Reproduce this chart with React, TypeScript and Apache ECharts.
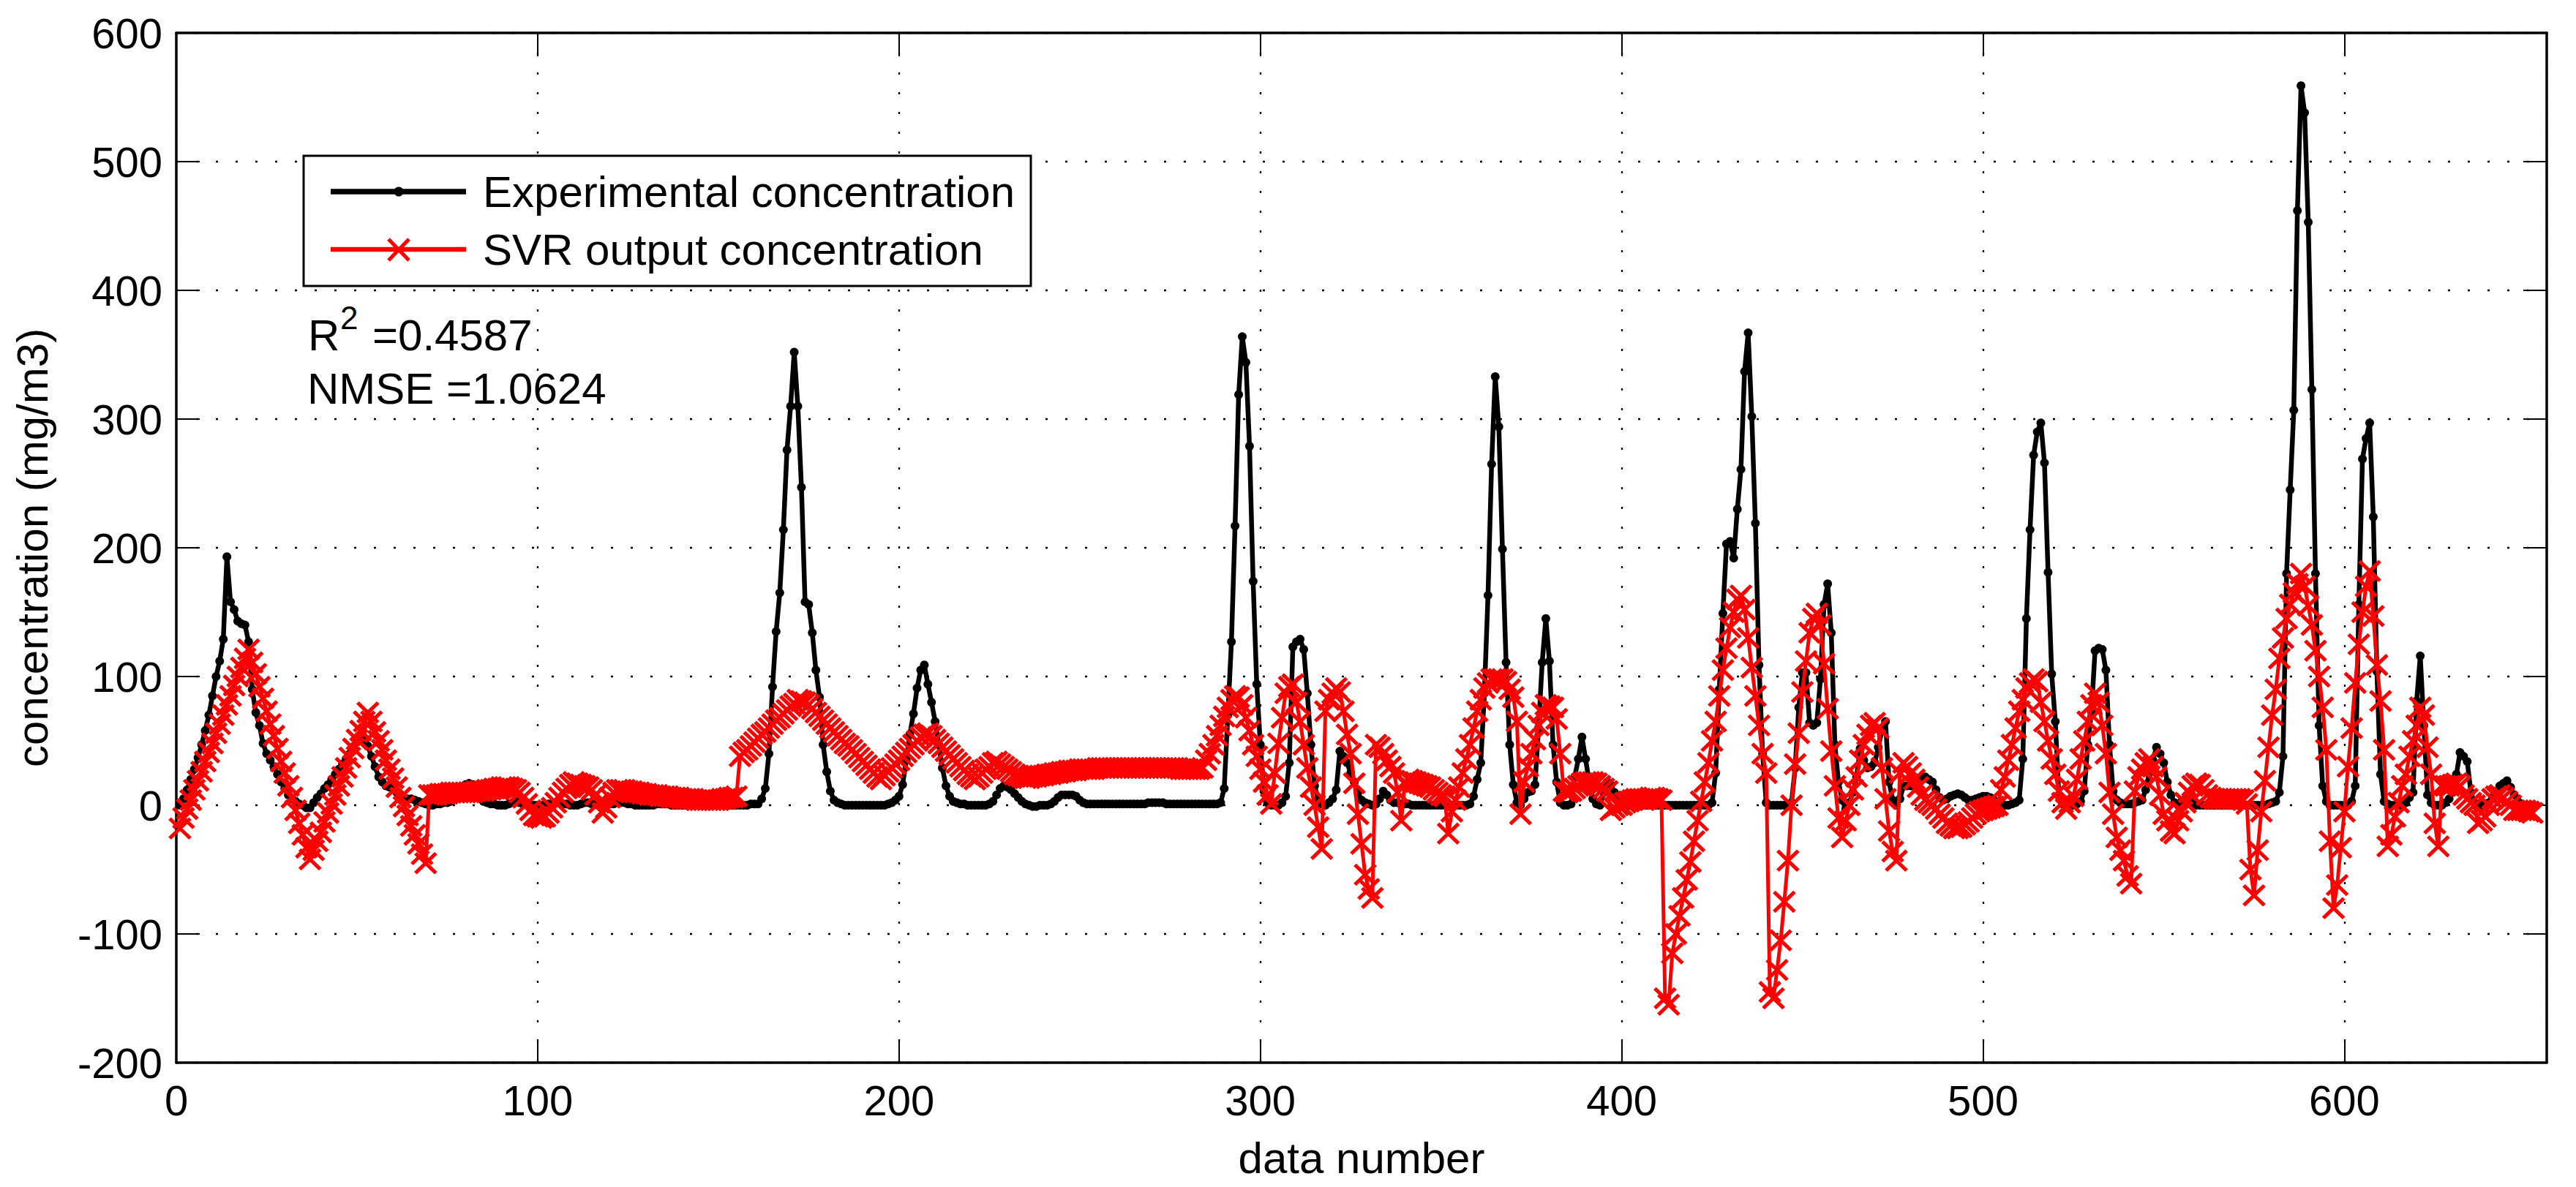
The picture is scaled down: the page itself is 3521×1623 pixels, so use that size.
import React, { useEffect, useRef } from 'react';
import * as echarts from 'echarts';

// ---- data ----
const X_MIN = 0;
const X_MAX = 656;
const X_INTERVAL = 100;
const Y_MIN = -200;
const Y_MAX = 600;
const Y_INTERVAL = 100;

const SERIES_NAMES = ['Experimental concentration', 'SVR output concentration'];
const X_LABEL = 'data number';
const Y_LABEL = 'concentration (mg/m3)';
const R2_VALUE = '=0.4587';
const NMSE_LINE = 'NMSE =1.0624';

// Experimental concentration, data numbers 1..652
const EXP_VALUES = [
  0, 5, 12, 20, 28, 37, 47, 58, 70, 85,
  100, 112, 129, 193, 158, 152, 143, 141, 140, 127,
  90, 72, 62, 48, 40, 35, 30, 24, 18, 13,
  8, 5, 3, 1, 0, -2, -2, 2, 6, 9,
  13, 16, 20, 24, 28, 32, 36, 40, 44, 49,
  53, 50, 46, 38, 30, 22, 18, 15, 14, 13,
  10, 8, 6, 5, 5, 4, 3, 2, 1, 0,
  0, 1, 1, 2, 2, 3, 5, 10, 14, 16,
  17, 16, 12, 6, 3, 2, 1, 1, 0, 0,
  0, 1, 2, 3, 2, 1, 1, 0, 0, 0,
  0, 0, 1, 1, 2, 2, 1, 1, 0, 0,
  0, 1, 2, 2, 1, 1, 0, 0, 0, 1,
  1, 2, 2, 2, 1, 1, 0, 0, 0, 0,
  0, 0, 1, 1, 1, 1, 0, 0, 0, 0,
  0, 0, 0, 1, 1, 1, 1, 0, 0, 0,
  0, 0, 0, 0, 0, 0, 0, 0, 1, 1,
  1, 5, 13, 40, 92, 135, 165, 214, 276, 310,
  352, 310, 247, 158, 156, 134, 105, 84, 47, 26,
  11, 4, 2, 1, 0, 0, 0, 0, 0, 0,
  0, 0, 0, 0, 0, 0, 1, 2, 4, 7,
  16, 35, 55, 71, 91, 105, 109, 94, 80, 65,
  47, 29, 15, 7, 3, 2, 1, 1, 0, 0,
  0, 0, 0, 0, 1, 3, 8, 13, 15, 14,
  12, 9, 6, 3, 1, 0, -1, -1, 0, 0,
  0, 1, 3, 6, 8, 8, 8, 8, 7, 4,
  2, 1, 1, 1, 1, 1, 1, 1, 1, 1,
  1, 1, 1, 1, 1, 1, 1, 1, 2, 2,
  2, 2, 2, 1, 1, 1, 1, 1, 1, 1,
  1, 1, 1, 1, 1, 1, 1, 1, 2, 13,
  70, 127, 217, 319, 364, 344, 279, 174, 94, 47,
  11, 2, 0, 0, 0, 2, 7, 33, 123, 127,
  129, 121, 87, 47, 15, 5, 1, 0, 2, 5,
  12, 42, 38, 33, 25, 18, 10, 4, 2, 1,
  0, 1, 5, 11, 8, 4, 2, 2, 1, 1,
  1, 0, 0, 0, 0, 0, 0, 0, 0, 0,
  0, 0, 0, 0, 0, 0, 0, 1, 7, 20,
  33, 87, 163, 265, 333, 294, 199, 111, 47, 16,
  2, 0, 5, 10, 11, 16, 60, 111, 145, 112,
  47, 18, 2, 0, 0, 1, 22, 36, 53, 36,
  18, 5, 1, 0, 10, 18, 16, 10, 4, 1,
  0, 0, 0, 0, 0, 0, 0, 0, 0, 0,
  0, 0, 0, 0, 0, 0, 0, 0, 0, 0,
  0, 0, 0, 0, 2, 25, 90, 149, 203, 205,
  192, 230, 261, 337, 367, 302, 219, 109, 40, 2,
  0, 0, 0, 0, 0, 0, 2, 29, 76, 103,
  103, 64, 62, 64, 98, 156, 172, 134, 47, 18,
  4, -3, 2, 10, 22, 44, 35, 29, 30, 33,
  45, 58, 65, 18, 4, 0, 5, 15, 15, 15,
  16, 18, 20, 22, 20, 18, 12, 6, 4, 5,
  7, 8, 9, 8, 6, 4, 4, 5, 6, 7,
  7, 6, 4, 2, 1, 0, 0, 1, 2, 4,
  36, 145, 214, 272, 290, 297, 266, 181, 102, 65,
  7, 1, 0, 0, 0, 1, 3, 11, 47, 73,
  120, 122, 121, 105, 47, 11, 4, 2, 1, 1,
  1, 2, 3, 4, 12, 25, 35, 45, 40, 33,
  18, 8, 2, 0, 3, 5, 4, 2, 0, 0,
  0, 0, 0, 0, 0, 0, 0, 0, 0, 0,
  0, 0, 0, 0, 0, 0, 0, 0, 1, 2,
  3, 10, 38, 180, 245, 307, 462, 559, 538, 453,
  323, 180, 62, 15, 3, 0, 0, 0, 0, 0,
  0, 3, 15, 156, 269, 285, 297, 224, 104, 24,
  3, 1, 0, 0, 0, 0, 2, 6, 10, 81,
  116, 62, 8, 2, 0, 0, 0, 2, 5, 10,
  24, 41, 38, 34, 10, 2, 0, 0, 0, 2,
  6, 10, 15, 17, 19, 14, 8, 3, 1, 0,
  0, 0,
];

// SVR output concentration, data numbers 1..652
const SVR_VALUES = [
  -18, -10, -3, 4, 12, 19, 26, 34, 41, 48,
  56, 63, 70, 78, 85, 93, 100, 107, 114, 121,
  111, 102, 92, 83, 73, 63, 54, 44, 34, 25,
  15, 6, -4, -14, -23, -33, -42, -35, -28, -21,
  -13, -6, 1, 8, 15, 22, 29, 37, 44, 51,
  58, 65, 72, 65, 57, 50, 43, 35, 28, 21,
  14, 6, -1, -8, -16, -23, -30, -38, -45, 8,
  8, 8, 9, 9, 9, 10, 10, 10, 10, 10,
  10, 10, 11, 11, 11, 12, 12, 13, 13, 14,
  14, 14, 13, 12, 10, 6, 1, -4, -8, -9,
  -10, -9, -6, -2, 2, 6, 10, 13, 16, 18,
  17, 16, 15, 14, 12, 8, 2, -6, -2, 6,
  10, 12, 12, 12, 11, 11, 10, 10, 9, 9,
  8, 8, 8, 7, 7, 7, 6, 6, 6, 5,
  5, 5, 5, 4, 4, 4, 4, 4, 4, 4,
  5, 5, 6, 6, 7, 38, 41, 43, 46, 49,
  52, 55, 57, 60, 63, 66, 68, 71, 74, 77,
  79, 82, 81, 80, 78, 75, 72, 69, 66, 63,
  60, 57, 54, 51, 48, 46, 43, 40, 37, 34,
  31, 28, 25, 22, 20, 23, 26, 29, 32, 35,
  38, 41, 44, 47, 50, 53, 55, 56, 54, 51,
  48, 45, 42, 39, 36, 33, 30, 27, 24, 22,
  20, 22, 25, 28, 30, 33, 34, 32, 30, 28,
  26, 24, 23, 22, 21, 21, 22, 22, 23, 23,
  24, 24, 25, 25, 26, 26, 27, 27, 27, 28,
  28, 28, 28, 28, 29, 29, 29, 29, 29, 29,
  29, 29, 29, 29, 29, 29, 29, 29, 29, 29,
  29, 29, 29, 29, 29, 29, 29, 28, 28, 28,
  28, 28, 28, 29, 35, 40, 47, 54, 62, 69,
  76, 82, 85, 84, 78, 68, 58, 47, 38, 28,
  18, 8, 1, 25, 48, 68, 87, 92, 94, 80,
  65, 47, 29, 14, 0, -17, -34, 73, 82, 87,
  91, 88, 73, 55, 40, 17, -7, -30, -54, -65,
  -72, 47, 45, 40, 35, 30, 25, 10, -12, 18,
  20, 19, 18, 17, 16, 15, 14, 12, 10, 8,
  7, -22, -5, 4, 14, 25, 36, 47, 60, 73,
  82, 91, 95, 98, 98, 98, 98, 96, 90, 84,
  65, -7, 18, 30, 40, 51, 62, 72, 78, 77,
  76, 67, 40, 11, 10, 11, 13, 15, 17, 18,
  18, 18, 17, 15, 13, 11, -4, -2, 0, 0,
  2, 3, 4, 5, 5, 5, 5, 6, 6, 5,
  4, -150, -155, -115, -100, -86, -72, -58, -44, -28,
  -12, 3, 18, 33, 50, 65, 85, 105, 122, 138,
  150, 160, 163, 152, 130, 107, 85, 62, 40, 25,
  -145, -150, -128, -105, -75, -43, 0, 32, 56, 88,
  112, 134, 145, 149, 140, 110, 75, 42, 15, -10,
  -25, -12, 0, 12, 22, 35, 47, 55, 62, 64,
  60, 29, 5, -20, -36, -43, 25, 33, 30, 25,
  20, 14, 8, 4, 2, 0, -3, -7, -10, -14,
  -16, -18, -18, -17, -15, -13, -10, -7, -5, -4,
  -3, -2, -1, 0, 12, 22, 35, 47, 60, 73,
  82, 91, 95, 98, 96, 80, 65, 50, 36, 24,
  11, 2, -3, 2, 7, 20, 36, 50, 65, 78,
  87, 80, 62, 40, 10, -7, -25, -35, -43, -55,
  -61, 11, 22, 28, 33, 36, 30, 22, 8, -7,
  -12, -20, -22, -12, -5, 2, 10, 15, 17, 16,
  12, 8, 6, 5, 5, 5, 5, 5, 5, 5,
  5, 4, 1, -50, -70, -35, -5, 19, 45, 70,
  90, 114, 130, 145, 156, 165, 172, 180, 170, 155,
  140, 120, 100, 76, 43, -28, -80, -62, -33, -5,
  30, 60, 95, 125, 150, 170, 182, 147, 109, 81,
  43, -32, -23, -9, 2, 15, 24, 38, 50, 62,
  76, 70, 45, 24, -14, -32, 15, 15, 15, 16,
  17, 15, 8, 5, 2, 0, -14, -12, -9, 0,
  5, 7, 8, 6, 3, 0, -4, -4, -4, -4,
  -5, -6,
];

const FONT = "'Liberation Sans', Arial, Helvetica, sans-serif";
const CROSS = 'path://M0,0L10,10M10,0L0,10';

export default function App() {
  const ref = useRef<HTMLDivElement>(null);

  useEffect(() => {
    document.body.style.margin = '0';
    if (!ref.current) return;
    const chart = echarts.init(ref.current, null, { renderer: 'svg' });

    const expData = EXP_VALUES.map((v, i) => [i + 1, v]);
    const svrData = SVR_VALUES.map((v, i) => [i + 1, v]);

    const frameLine = { show: true, onZero: false, lineStyle: { color: '#000', width: 3.5 } };
    const innerTick = { show: true, inside: true, length: 32, lineStyle: { color: '#000', width: 2 } };
    const dotted = { show: true, lineStyle: { color: '#000', width: 2.3, type: [3, 24] } };
    const tickFont = { fontSize: 58, color: '#000', fontFamily: FONT };

    const option: any = {
      animation: false,
      backgroundColor: '#fff',
      grid: { left: 241, right: 40, top: 45, bottom: 170, containLabel: false, outerBoundsMode: 'none' },
      xAxis: [
        {
          type: 'value', min: X_MIN, max: X_MAX, interval: X_INTERVAL, position: 'bottom',
          axisLine: frameLine, axisTick: innerTick,
          axisLabel: { ...tickFont, margin: 22, showMaxLabel: false },
          splitLine: dotted,
          name: X_LABEL, nameLocation: 'middle', nameGap: 100,
          nameTextStyle: { fontSize: 60, color: '#000', fontFamily: FONT },
        },
        {
          type: 'value', min: X_MIN, max: X_MAX, interval: X_INTERVAL, position: 'top',
          axisLine: frameLine, axisTick: innerTick,
          axisLabel: { show: false }, splitLine: { show: false },
        },
      ],
      yAxis: [
        {
          type: 'value', min: Y_MIN, max: Y_MAX, interval: Y_INTERVAL, position: 'left',
          axisLine: frameLine, axisTick: innerTick,
          axisLabel: { ...tickFont, margin: 19 },
          splitLine: dotted,
          name: Y_LABEL, nameLocation: 'middle', nameGap: 167, nameRotate: 90,
          nameTextStyle: { fontSize: 60, color: '#000', fontFamily: FONT },
        },
        {
          type: 'value', min: Y_MIN, max: Y_MAX, interval: Y_INTERVAL, position: 'right',
          axisLine: frameLine, axisTick: innerTick,
          axisLabel: { show: false }, splitLine: { show: false },
        },
      ],
      series: [
        {
          name: SERIES_NAMES[0], type: 'line', xAxisIndex: 0, yAxisIndex: 0,
          data: expData, showAllSymbol: true, symbol: 'circle', symbolSize: 12,
          lineStyle: { color: '#000', width: 6.5 },
          itemStyle: { color: '#000', borderWidth: 0 },
          emphasis: { disabled: true }, silent: true, z: 2,
        },
        {
          name: SERIES_NAMES[1], type: 'line', xAxisIndex: 0, yAxisIndex: 0,
          data: svrData, showAllSymbol: true, symbol: CROSS, symbolSize: [28, 27],
          lineStyle: { color: '#ff0000', width: 5 },
          itemStyle: { color: '#ff0000', borderColor: '#ff0000', borderWidth: 5 },
          emphasis: { disabled: true }, silent: true, z: 3,
        },
      ],
      graphic: [
        {
          type: 'rect', z: 100, silent: true,
          shape: { x: 415, y: 213, width: 994, height: 178 },
          style: { fill: '#fff', stroke: '#000', lineWidth: 3 },
        },
        {
          type: 'line', z: 101, silent: true,
          shape: { x1: 452, y1: 262, x2: 637, y2: 262 },
          style: { stroke: '#000', lineWidth: 7.5 },
        },
        {
          type: 'circle', z: 102, silent: true,
          shape: { cx: 545, cy: 262, r: 6.5 },
          style: { fill: '#000' },
        },
        {
          type: 'text', z: 101, silent: true, x: 660, y: 262,
          style: { text: SERIES_NAMES[0], fontSize: 60, fontFamily: FONT, fill: '#000', align: 'left', verticalAlign: 'middle' },
        },
        {
          type: 'line', z: 101, silent: true,
          shape: { x1: 452, y1: 341, x2: 637, y2: 341 },
          style: { stroke: '#ff0000', lineWidth: 6.5 },
        },
        {
          type: 'line', z: 102, silent: true,
          shape: { x1: 531, y1: 327, x2: 559, y2: 356 },
          style: { stroke: '#ff0000', lineWidth: 5 },
        },
        {
          type: 'line', z: 102, silent: true,
          shape: { x1: 559, y1: 327, x2: 531, y2: 356 },
          style: { stroke: '#ff0000', lineWidth: 5 },
        },
        {
          type: 'text', z: 101, silent: true, x: 660, y: 341,
          style: { text: SERIES_NAMES[1], fontSize: 60, fontFamily: FONT, fill: '#000', align: 'left', verticalAlign: 'middle' },
        },
        {
          type: 'text', z: 101, silent: true, x: 421, y: 458,
          style: { text: 'R', fontSize: 60, fontFamily: FONT, fill: '#000', align: 'left', verticalAlign: 'middle' },
        },
        {
          type: 'text', z: 101, silent: true, x: 465, y: 434,
          style: { text: '2', fontSize: 44, fontFamily: FONT, fill: '#000', align: 'left', verticalAlign: 'middle' },
        },
        {
          type: 'text', z: 101, silent: true, x: 509, y: 458,
          style: { text: R2_VALUE, fontSize: 60, fontFamily: FONT, fill: '#000', align: 'left', verticalAlign: 'middle' },
        },
        {
          type: 'text', z: 101, silent: true, x: 420, y: 531,
          style: { text: NMSE_LINE, fontSize: 60, fontFamily: FONT, fill: '#000', align: 'left', verticalAlign: 'middle' },
        },
      ],
    };

    chart.setOption(option);
    return () => chart.dispose();
  }, []);

  return <div ref={ref} style={{ width: 3521, height: 1623 }} />;
}
